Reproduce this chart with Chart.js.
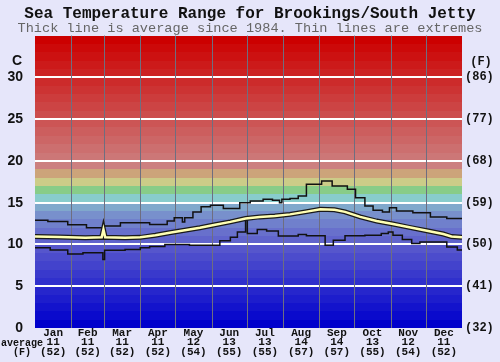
<!DOCTYPE html>
<html>
<head>
<meta charset="utf-8">
<title>Sea Temperature Range for Brookings/South Jetty</title>
<script src="https://cdn.jsdelivr.net/npm/chart.js@4.4.1/dist/chart.umd.min.js"></script>
<style>
  html, body { margin: 0; padding: 0; background: #e6e6fa; }
  #wrap { width: 500px; height: 362px; }
</style>
</head>
<body>
<div id="wrap"><canvas id="seaChart" width="500" height="362"></canvas></div>
<script>
// Months and monthly averages (C and F)
const months = ['Jan', 'Feb', 'Mar', 'Apr', 'May', 'Jun', 'Jul', 'Aug', 'Sep', 'Oct', 'Nov', 'Dec'];
const monthLengths = [31, 28, 31, 30, 31, 30, 31, 31, 30, 31, 30, 31];
const monthAvgC = [11, 11, 11, 11, 12, 13, 13, 14, 14, 13, 12, 11];
const monthAvgF = [52, 52, 52, 52, 54, 55, 55, 57, 57, 55, 54, 52];

// Axis tick labels
const cTicks = [0, 5, 10, 15, 20, 25, 30];
const fTicks = ['(32)', '(41)', '(50)', '(59)', '(68)', '(77)', '(86)'];

// Daily average (thick line), day of year -> degrees C
const avgDays  = [0, 21, 43, 57, 58.5, 60, 77, 90, 103, 115, 128, 141, 154, 167, 180, 192, 205, 218, 231, 244, 256, 265, 278, 292, 306, 320, 335, 349, 356, 365];
const avgTemps = [10.95, 10.9, 10.8, 10.85, 11.8, 10.85, 10.8, 10.85, 11.1, 11.4, 11.7, 12.0, 12.35, 12.7, 13.1, 13.3, 13.4, 13.6, 13.9, 14.2, 14.15, 13.9, 13.3, 12.8, 12.45, 12.05, 11.65, 11.25, 10.95, 10.85];

// Highest recorded (thin line)
const maxDays  = [0, 11, 28, 44, 58, 73, 98, 113, 119, 126, 128, 135, 142, 150, 161, 175, 184, 195, 203, 209, 211, 218, 225, 232, 245, 254, 267, 274, 282, 289, 297, 303, 309, 323, 338, 352, 365];
const maxTemps = [12.9, 12.75, 12.35, 12.0, 12.2, 12.6, 12.4, 12.8, 13.2, 12.7, 13.2, 13.9, 14.5, 14.7, 14.3, 15.0, 15.2, 15.4, 15.3, 15.0, 15.4, 15.5, 15.8, 17.2, 17.6, 17.0, 16.6, 15.6, 14.6, 14.1, 13.9, 14.4, 14.0, 13.8, 13.3, 13.1, 13.1];

// Lowest recorded (thin line)
const minDays  = [0, 13, 28, 41, 58, 59.5, 77, 90, 98, 111, 132, 158, 167, 173, 180, 181.5, 190, 198, 208, 225, 232, 248, 255, 265, 282, 296, 302, 306, 314, 322, 329, 352, 361, 365];
const minTemps = [9.6, 9.35, 8.85, 9.0, 8.2, 9.3, 9.4, 9.6, 9.75, 10.0, 9.9, 10.45, 10.85, 11.5, 12.9, 11.3, 11.8, 11.6, 11.0, 11.2, 11.05, 9.9, 10.5, 11.05, 11.1, 11.3, 11.5, 11.1, 10.6, 10.1, 10.3, 9.7, 9.35, 9.35];

// Colour of each 1 degree band, from 0-1 C up to 34-35 C
function bandColor(t) {
  if (t >= 19) {
    const g = Math.round(128 * (34 - t) / 15);
    return 'rgb(204,' + g + ',' + g + ')';
  }
  const fixed = {
    18: '#cca47a', 17: '#cccc88', 16: '#88cc88', 15: '#88cccc',
    14: '#80a8cc', 13: '#7890cc', 12: '#7080cc', 11: '#6870cc', 10: '#6064cc'
  };
  if (fixed[t]) return fixed[t];
  const v = Math.round(t * 9.5);
  return 'rgb(' + v + ',' + v + ',204)';
}

function toPoints(days, temps) {
  return days.map((d, i) => ({ x: d, y: temps[i] }));
}

// Month boundaries and mid points in days
const monthStarts = [];
let acc = 0;
monthLengths.forEach(len => { monthStarts.push(acc); acc += len; });
const monthMids = monthStarts.map((s, i) => s + monthLengths[i] / 2);

const monoFont = "'Liberation Mono', 'DejaVu Sans Mono', monospace";
const sansFont = "'Liberation Sans', Arial, sans-serif";

// Page background and the coloured temperature bands
const bandPlugin = {
  id: 'tempBands',
  beforeDraw(chart) {
    const ctx = chart.ctx;
    const area = chart.chartArea;
    const y = chart.scales.y;
    ctx.save();
    ctx.fillStyle = '#e6e6fa';
    ctx.fillRect(0, 0, chart.width, chart.height);
    for (let t = 0; t < 35; t++) {
      const top = Math.round(y.getPixelForValue(t + 1));
      const bottom = Math.round(y.getPixelForValue(t));
      ctx.fillStyle = bandColor(t);
      ctx.fillRect(area.left, top, area.right - area.left, bottom - top);
    }
    ctx.restore();
  },
  beforeDatasetsDraw(chart) {
    const ctx = chart.ctx;
    const area = chart.chartArea;
    const x = chart.scales.x;
    ctx.save();
    ctx.strokeStyle = '#6e6e80';
    ctx.lineWidth = 1;
    monthStarts.slice(1).forEach(d => {
      const px = Math.round(x.getPixelForValue(d)) + 0.5;
      ctx.beginPath();
      ctx.moveTo(px, area.top);
      ctx.lineTo(px, area.bottom);
      ctx.stroke();
    });
    ctx.restore();
  },
  afterDraw(chart) {
    const ctx = chart.ctx;
    ctx.save();
    ctx.fillStyle = '#111';
    ctx.textBaseline = 'middle';
    ctx.font = 'bold 14px ' + sansFont;
    ctx.textAlign = 'right';
    ctx.fillText('C', 22, 61);
    ctx.font = 'bold 12px ' + monoFont;
    ctx.textAlign = 'center';
    ctx.fillText('(F)', 481, 62);
    ctx.font = 'bold 10px ' + monoFont;
    ctx.fillText('average', 22, 343);
    ctx.fillText('(F)', 22, 352.5);
    ctx.restore();
  }
};

const ctx = document.getElementById('seaChart').getContext('2d');

new Chart(ctx, {
  type: 'line',
  data: {
    datasets: [
      {
        label: 'Average',
        data: toPoints(avgDays, avgTemps),
        borderColor: '#ffffb4',
        borderWidth: 2.5,
        pointRadius: 0,
        order: 0
      },
      {
        label: 'Average outline',
        data: toPoints(avgDays, avgTemps),
        borderColor: '#1a1a1a',
        borderWidth: 5,
        pointRadius: 0,
        order: 1
      },
      {
        label: 'Highest',
        data: toPoints(maxDays, maxTemps),
        borderColor: '#111',
        borderWidth: 1.5,
        stepped: true,
        pointRadius: 0,
        order: 2
      },
      {
        label: 'Lowest',
        data: toPoints(minDays, minTemps),
        borderColor: '#111',
        borderWidth: 1.5,
        stepped: true,
        pointRadius: 0,
        order: 2
      }
    ]
  },
  options: {
    responsive: false,
    animation: false,
    devicePixelRatio: 1,
    layout: { padding: { top: 0, left: 0, right: 0, bottom: 0 } },
    plugins: {
      legend: { display: false },
      tooltip: { enabled: false },
      title: {
        display: true,
        text: 'Sea Temperature Range for Brookings/South Jetty',
        color: '#111',
        font: { family: monoFont, size: 16, weight: 'bold', lineHeight: 1 },
        padding: { top: 6, bottom: 0 }
      },
      subtitle: {
        display: true,
        text: 'Thick line is average since 1984. Thin lines are extremes',
        color: '#666',
        font: { family: monoFont, size: 13.6, weight: 'normal', lineHeight: 1 },
        padding: { top: 0, bottom: 0 }
      }
    },
    scales: {
      x: {
        type: 'linear',
        min: 0,
        max: 365,
        afterBuildTicks: scale => { scale.ticks = monthMids.map(v => ({ value: v })); },
        afterFit: scale => { scale.height = 34; },
        grid: { display: false, drawTicks: false },
        border: { display: false },
        ticks: {
          autoSkip: false,
          maxRotation: 0,
          padding: 0,
          color: '#111',
          font: { family: monoFont, size: 11, weight: 'bold', lineHeight: 0.87 },
          callback: (value, index) => [months[index], String(monthAvgC[index]), '(' + monthAvgF[index] + ')']
        }
      },
      y: {
        position: 'left',
        min: 0,
        max: 35,
        afterBuildTicks: scale => { scale.ticks = cTicks.map(v => ({ value: v })); },
        afterFit: scale => { scale.width = 35; },
        grid: {
          drawTicks: false,
          lineWidth: 2,
          color: c => (c.tick && c.tick.value === 0 ? 'rgba(0,0,0,0)' : '#ffffff')
        },
        border: { display: false },
        ticks: {
          padding: 12,
          color: '#111',
          font: { family: sansFont, size: 14, weight: 'bold' }
        }
      },
      y2: {
        position: 'right',
        min: 0,
        max: 35,
        afterBuildTicks: scale => { scale.ticks = cTicks.map(v => ({ value: v })); },
        afterFit: scale => { scale.width = 38; },
        grid: { display: false, drawTicks: false },
        border: { display: false },
        ticks: {
          padding: 3,
          color: '#111',
          font: { family: monoFont, size: 12, weight: 'bold' },
          callback: (value, index) => fTicks[index]
        }
      }
    }
  },
  plugins: [bandPlugin]
});
</script>
</body>
</html>
